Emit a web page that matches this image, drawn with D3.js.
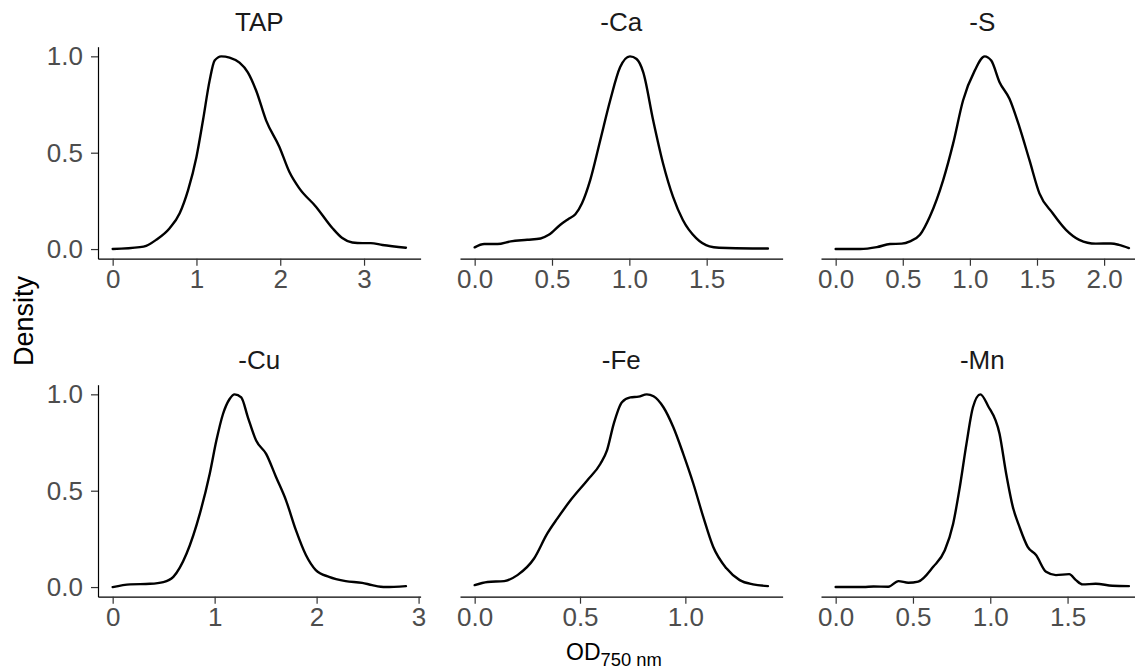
<!DOCTYPE html>
<html>
<head>
<meta charset="utf-8">
<script src="https://cdn.jsdelivr.net/npm/d3@7"></script>
<style>
  html, body { margin: 0; padding: 0; background: #fff; }
  svg { display: block; font-family: "Liberation Sans", Arial, sans-serif; }
</style>
</head>
<body>
<svg id="chart" width="1135" height="672"></svg>
<script>
// Facet labels (media), in panel order: left-to-right, top-to-bottom
const media = ["TAP", "-Ca", "-S", "-Cu", "-Fe", "-Mn"];

// Scaled density curves (max = 1) of OD750 per medium
const odTAP   = [0, 0.325, 0.40, 0.52, 0.68, 0.80, 0.90, 1.00, 1.078, 1.157, 1.217, 1.296, 1.395, 1.514, 1.613, 1.712, 1.831, 1.99, 2.108, 2.228, 2.426, 2.624, 2.74, 2.86, 2.98, 3.08, 3.22, 3.50];
const denTAP  = [0, 0.010, 0.017, 0.048, 0.108, 0.186, 0.306, 0.478, 0.668, 0.874, 0.978, 1.000, 0.993, 0.967, 0.917, 0.823, 0.668, 0.530, 0.401, 0.315, 0.220, 0.108, 0.057, 0.034, 0.031, 0.031, 0.021, 0.007];

const odCa    = [0, 0.062, 0.148, 0.233, 0.34, 0.426, 0.479, 0.554, 0.608, 0.651, 0.694, 0.747, 0.812, 0.876, 0.94, 1.004, 1.047, 1.09, 1.154, 1.218, 1.282, 1.346, 1.432, 1.518, 1.58, 1.795, 1.896];
const denCa   = [0.009, 0.026, 0.026, 0.040, 0.048, 0.055, 0.074, 0.126, 0.157, 0.181, 0.238, 0.358, 0.565, 0.771, 0.943, 1.000, 0.986, 0.917, 0.668, 0.444, 0.272, 0.151, 0.057, 0.014, 0.007, 0.003, 0.003];

const odS     = [0, 0.183, 0.307, 0.405, 0.492, 0.554, 0.628, 0.702, 0.801, 0.875, 0.949, 1.036, 1.11, 1.159, 1.221, 1.295, 1.369, 1.444, 1.518, 1.617, 1.716, 1.815, 1.938, 2.05, 2.111, 2.185];
const denS    = [0, 0, 0.010, 0.026, 0.028, 0.040, 0.074, 0.169, 0.358, 0.547, 0.771, 0.926, 1.000, 0.978, 0.866, 0.780, 0.634, 0.461, 0.289, 0.186, 0.100, 0.048, 0.028, 0.029, 0.022, 0.005];

const odCu    = [0, 0.172, 0.367, 0.497, 0.595, 0.725, 0.855, 0.952, 1.017, 1.082, 1.147, 1.196, 1.261, 1.326, 1.407, 1.505, 1.602, 1.70, 1.797, 1.895, 1.992, 2.122, 2.285, 2.447, 2.545, 2.675, 2.876];
const denCu   = [0, 0.014, 0.017, 0.026, 0.053, 0.174, 0.381, 0.588, 0.760, 0.898, 0.976, 1.000, 0.984, 0.881, 0.760, 0.691, 0.571, 0.450, 0.295, 0.166, 0.088, 0.053, 0.031, 0.022, 0.010, 0, 0.005];

const odFe    = [0, 0.061, 0.14, 0.203, 0.282, 0.345, 0.392, 0.455, 0.534, 0.597, 0.628, 0.66, 0.699, 0.739, 0.778, 0.817, 0.849, 0.896, 0.943, 0.99, 1.038, 1.085, 1.132, 1.195, 1.258, 1.321, 1.392];
const denFe   = [0.010, 0.026, 0.031, 0.062, 0.148, 0.278, 0.355, 0.450, 0.553, 0.640, 0.709, 0.847, 0.959, 0.984, 0.988, 1.000, 0.990, 0.933, 0.829, 0.691, 0.536, 0.364, 0.209, 0.097, 0.036, 0.014, 0.005];

const odMn    = [0, 0.18, 0.245, 0.341, 0.406, 0.47, 0.534, 0.631, 0.706, 0.76, 0.803, 0.846, 0.888, 0.936, 0.985, 1.06, 1.103, 1.146, 1.189, 1.242, 1.296, 1.361, 1.425, 1.511, 1.554, 1.597, 1.682, 1.79, 1.897];
const denMn   = [0, 0, 0.003, 0.002, 0.031, 0.022, 0.028, 0.105, 0.191, 0.329, 0.519, 0.743, 0.933, 1.000, 0.941, 0.795, 0.588, 0.416, 0.312, 0.209, 0.166, 0.079, 0.062, 0.067, 0.036, 0.014, 0.017, 0.007, 0.005];

// Axis ticks
const yTicks     = [0, 0.5, 1];
const xTicksTAP  = [0, 1, 2, 3];
const xTicksCa   = [0, 0.5, 1, 1.5];
const xTicksS    = [0, 0.5, 1, 1.5, 2];
const xTicksCu   = [0, 1, 2, 3];
const xTicksFe   = [0, 0.5, 1];
const xTicksMn   = [0, 0.5, 1, 1.5];

const seriesX = [odTAP, odCa, odS, odCu, odFe, odMn];
const seriesY = [denTAP, denCa, denS, denCu, denFe, denMn];
const xTicks  = [xTicksTAP, xTicksCa, xTicksS, xTicksCu, xTicksFe, xTicksMn];
const xFormats = [d3.format("d"), d3.format(".1f"), d3.format(".1f"), d3.format("d"), d3.format(".1f"), d3.format(".1f")];

// Panel grid geometry
const colLeft = [98, 460, 821];
const rowTop = [46.7, 384.7];
const panelW = 322.6;
const panelH = 212;

const svg = d3.select("#chart");
const tickColor = "#333333";
const labelColor = "#4D4D4D";

media.forEach((name, i) => {
  const col = i % 3, row = Math.floor(i / 3);
  const xs = seriesX[i], ys = seriesY[i];
  const data = xs.map((x, k) => ({ x, y: ys[k] }));

  const [lo, hi] = d3.extent(xs);
  const pad = (hi - lo) * 0.05;
  const x = d3.scaleLinear().domain([lo - pad, hi + pad]).range([0, panelW]);
  const y = d3.scaleLinear().domain([-0.05, 1.05]).range([panelH, 0]);

  const g = svg.append("g").attr("transform", `translate(${colLeft[col]},${rowTop[row]})`);

  // strip title
  g.append("text")
    .attr("x", panelW / 2)
    .attr("y", -16)
    .attr("text-anchor", "middle")
    .attr("fill", "#1A1A1A")
    .style("font-size", "26px")
    .text(name);

  // x axis
  const xa = g.append("g")
    .attr("transform", `translate(0,${panelH})`)
    .call(d3.axisBottom(x).tickValues(xTicks[i]).tickFormat(xFormats[i]).tickSizeOuter(0).tickSizeInner(7).tickPadding(4));
  xa.select(".domain").attr("stroke", "#000").attr("stroke-width", 1.2);
  xa.selectAll(".tick line").attr("stroke", tickColor).attr("stroke-width", 1.2);
  xa.selectAll(".tick text")
    .attr("fill", labelColor)
    .attr("dy", null)
    .attr("y", 29)
    .style("font-size", "26px")
    .style("font-family", "'Liberation Sans', Arial, sans-serif");

  // y axis only on first column
  if (col === 0) {
    const ya = g.append("g")
      .call(d3.axisLeft(y).tickValues(yTicks).tickFormat(d3.format(".1f")).tickSizeOuter(0).tickSizeInner(7).tickPadding(8));
    ya.select(".domain").attr("stroke", "#000").attr("stroke-width", 1.2);
    ya.selectAll(".tick line").attr("stroke", tickColor).attr("stroke-width", 1.2);
    ya.selectAll(".tick text")
      .attr("fill", labelColor)
      .style("font-size", "26px")
      .style("font-family", "'Liberation Sans', Arial, sans-serif");
  }

  // density curve
  const line = d3.line()
    .x(d => x(d.x))
    .y(d => y(d.y))
    .curve(d3.curveMonotoneX);

  g.append("path")
    .datum(data)
    .attr("d", line)
    .attr("fill", "none")
    .attr("stroke", "#000")
    .attr("stroke-width", 2.4)
    .attr("stroke-linejoin", "round")
    .attr("stroke-linecap", "round");
});

// y axis title
svg.append("text")
  .attr("transform", "translate(33,321) rotate(-90)")
  .attr("text-anchor", "middle")
  .attr("fill", "#000")
  .style("font-size", "27px")
  .text("Density");

// x axis title with subscript
const xt = svg.append("text")
  .attr("x", 614)
  .attr("y", 660)
  .attr("text-anchor", "middle")
  .attr("fill", "#000")
  .style("font-size", "23px");
xt.append("tspan").text("OD");
xt.append("tspan").attr("dy", 6).style("font-size", "18.4px").text("750 nm");
</script>
</body>
</html>
